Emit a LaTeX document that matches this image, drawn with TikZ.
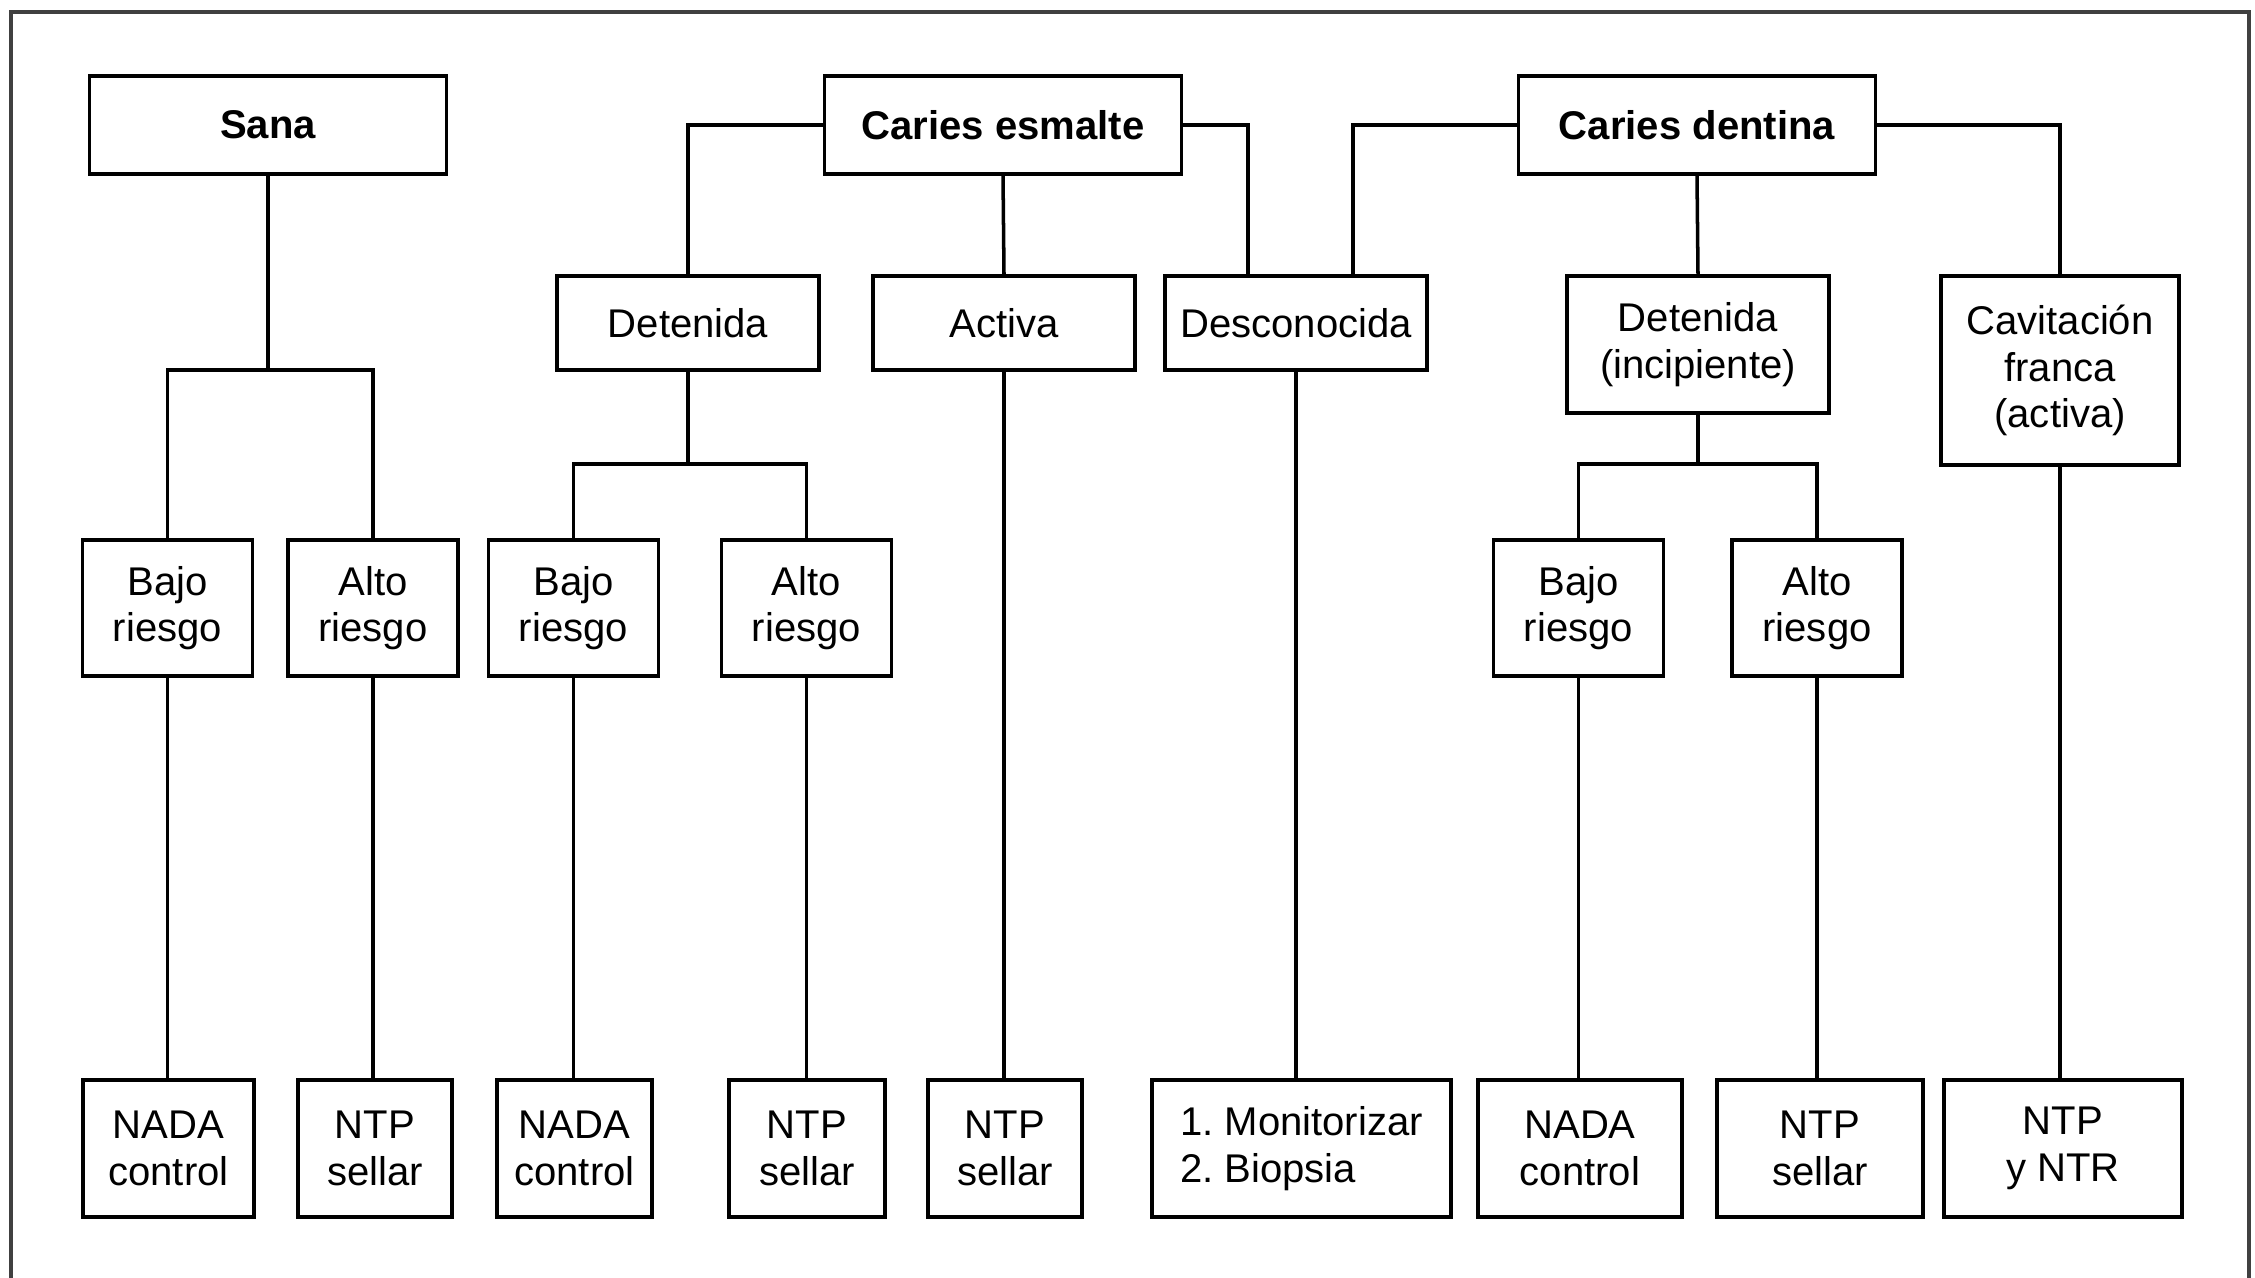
\documentclass[tikz,border=0pt]{standalone}
\usepackage{fontspec}
\setmainfont{Liberation Sans}
\usetikzlibrary{calc}
\frenchspacing

\begin{document}
\begin{tikzpicture}[x=0.1mm,y=-0.1mm,
	caja/.style={draw, line width=1pt, inner sep=0pt, align=center, font=\fontsize{11.4}{13.2}\selectfont},
	titulo/.style={caja, minimum width=35.7mm, minimum height=9.8mm, font=\fontsize{11.4}{13.2}\selectfont\bfseries},
	riesgo/.style={caja, minimum width=17mm, minimum height=13.6mm},
	accion/.style={caja, minimum height=13.7mm},
	linea/.style={line width=1pt}]
			\useasboundingbox (0,0) rectangle (2255,1278);
			\draw[black!75, line width=1pt] (11,1278) -- (11,12) -- (2249,12) -- (2249,1278);

			\node[titulo] (sana) at (268,125) {Sana};
			\node[titulo] (esmalte) at (1003,125) {Caries esmalte};
			\node[titulo] (dentina) at (1697,125) {Caries dentina};

			\node[caja, minimum width=26.2mm, minimum height=9.4mm] (detE) at (688,323) {Detenida};
			\node[caja, minimum width=26.2mm, minimum height=9.4mm] (activa) at (1004,323) {Activa};
			\node[caja, minimum width=26.2mm, minimum height=9.4mm] (descon) at (1296,323) {Desconocida};
			\node[caja, minimum width=26.2mm, minimum height=13.7mm] (detD) at (1698,344.5) {Detenida\\(incipiente)};
			\node[caja, minimum width=23.8mm, minimum height=18.9mm] (cavit) at (2060,370.5) {Cavitación\\franca\\(activa)};

			\node[riesgo] (bajoS) at (167.5,608) {Bajo\\riesgo};
			\node[riesgo] (altoS) at (373,608) {Alto\\riesgo};
			\node[riesgo] (bajoE) at (573.5,608) {Bajo\\riesgo};
			\node[riesgo] (altoE) at (806.5,608) {Alto\\riesgo};
			\node[riesgo] (bajoD) at (1578.5,608) {Bajo\\riesgo};
			\node[riesgo] (altoD) at (1817,608) {Alto\\riesgo};

			\node[accion, minimum width=17.1mm] (nadaS) at (168.5,1148.5) {NADA\\control};
			\node[accion, minimum width=15.4mm] (ntpS) at (375,1148.5) {NTP\\sellar};
			\node[accion, minimum width=15.5mm] (nadaE) at (574.5,1148.5) {NADA\\control};
			\node[accion, minimum width=15.6mm] (ntpE) at (807,1148.5) {NTP\\sellar};
			\node[accion, minimum width=15.4mm] (ntpA) at (1005,1148.5) {NTP\\sellar};
			\node[accion, minimum width=29.9mm, align=left] (monit) at (1301.5,1148.5) {1. Monitorizar\\2. Biopsia};
			\node[accion, minimum width=20.4mm] (nadaD) at (1580,1148.5) {NADA\\control};
			\node[accion, minimum width=20.6mm] (ntpD) at (1820,1148.5) {NTP\\sellar};
			\node[accion, minimum width=23.8mm] (ntr) at (2063,1148.5) {NTP\\y NTR};

			%puntos de ramificacion
			\coordinate (barS) at (268,370);
			\coordinate (barE) at (688,464);
			\coordinate (barD) at (1698,464);

			\draw[linea] (sana.south) -- (barS);
			\draw[linea] (bajoS.north) |- (barS) -| (altoS.north);

			\draw[linea] (esmalte.west) -| (detE.north);
			\draw[linea] (esmalte.south) -- (activa.north);
			\draw[linea] (esmalte.east) -| ($(descon.north)+(-48,0)$);
			\draw[linea] (detE.south) -- (barE);
			\draw[linea] (bajoE.north) |- (barE) -| (altoE.north);

			\draw[linea] (dentina.west) -| ($(descon.north)+(57,0)$);
			\draw[linea] (dentina.south) -- (detD.north);
			\draw[linea] (dentina.east) -| (cavit.north);
			\draw[linea] (detD.south) -- (barD);
			\draw[linea] (bajoD.north) |- (barD) -| (altoD.north);

			\draw[linea] (bajoS.south) -- (bajoS.south |- nadaS.north);
			\draw[linea] (altoS.south) -- (altoS.south |- ntpS.north);
			\draw[linea] (bajoE.south) -- (bajoE.south |- nadaE.north);
			\draw[linea] (altoE.south) -- (altoE.south |- ntpE.north);
			\draw[linea] (activa.south) -- (activa.south |- ntpA.north);
			\draw[linea] (descon.south) -- (descon.south |- monit.north);
			\draw[linea] (bajoD.south) -- (bajoD.south |- nadaD.north);
			\draw[linea] (altoD.south) -- (altoD.south |- ntpD.north);
			\draw[linea] (cavit.south) -- (cavit.south |- ntr.north);

		\end{tikzpicture}
\end{document}
